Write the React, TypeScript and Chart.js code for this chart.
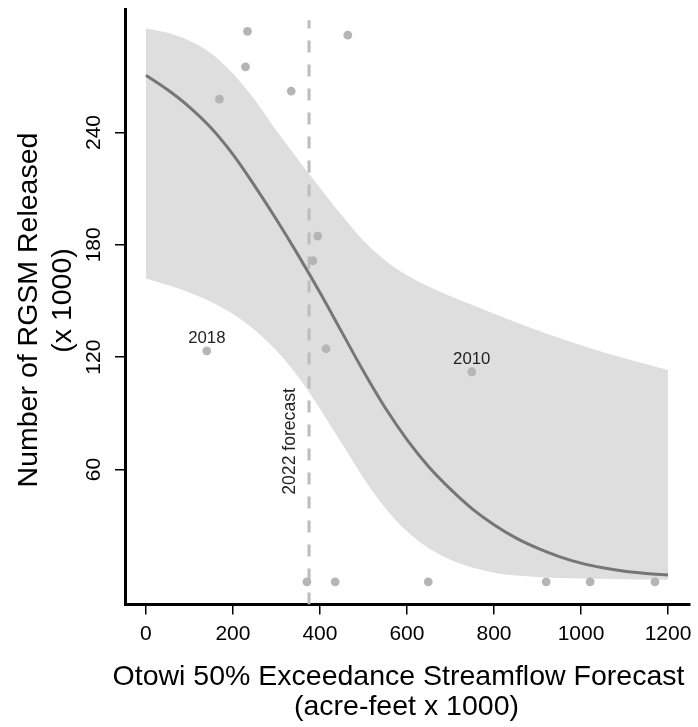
import React, { useEffect, useRef } from 'react';
import { Chart, registerables } from 'chart.js';

Chart.register(...registerables);

// Fitted curve and confidence band (x in acre-feet x 1000)
const fitX = [0, 50, 100, 150, 200, 250, 300, 350, 400, 450, 500, 550, 600, 650, 700, 750, 800, 850, 900, 950, 1000, 1050, 1100, 1150, 1200];
const fitY = [270.6, 262.8, 253.6, 242.4, 228.3, 211.5, 193.5, 174.5, 154.5, 133.5, 112.5, 93, 76, 61.5, 49.5, 39, 30.5, 23.5, 18, 13.5, 10, 7.5, 5.7, 4.5, 3.6];
const upperY = [295.6, 293.3, 289, 282.2, 271.5, 257.5, 241, 225.5, 210.5, 195.8, 182.3, 171.6, 163.7, 157.7, 152.6, 147.8, 143.2, 138.7, 134.4, 130.3, 126.4, 122.8, 119.4, 116.2, 113.1];
const lowerY = [162, 158.5, 154.5, 149.5, 143, 134.5, 123.5, 109.5, 92.5, 74, 55.5, 39.5, 27, 18, 11.8, 7.6, 4.9, 3.4, 2.6, 2.1, 1.8, 1.6, 1.4, 1.25, 1.1];

// Observed releases
const obsX = [140, 169, 229, 233.5, 334, 464, 384, 395, 414, 749, 370, 435, 649, 920, 1021, 1170];
const obsY = [123.4, 257.8, 275.1, 294, 262.1, 292, 171.5, 184.7, 124.5, 112.2, 0, 0, 0, 0, 0, 0];

// Labelled years (index into observed arrays)
const labelYears = ['2018', '2010'];
const labelIdx = [0, 9];

// 2022 forecast
const forecastX = 375;
const forecastTop = 300;
const forecastLabel = '2022 forecast';
const forecastLabelY = 75;

const xTicks = [0, 200, 400, 600, 800, 1000, 1200];
const yTicks = [60, 120, 180, 240];
const xTitle = ['Otowi 50% Exceedance Streamflow Forecast', '(acre-feet x 1000)'];
const yTitle = ['Number of RGSM Released', '(x 1000)'];

const X_MIN = -48;
const X_MAX = 1250.5;
const Y_MIN = -12.1;
const Y_MAX = 305.8;

const FAM = '"Liberation Sans", Arial, Helvetica, sans-serif';

const textPlugin = {
  id: 'textPlugin',
  afterDraw(chart: any) {
    const { ctx } = chart;
    const xs = chart.scales.x;
    const ys = chart.scales.y;
    ctx.save();
    ctx.fillStyle = '#000';
    ctx.textAlign = 'center';
    ctx.textBaseline = 'alphabetic';

    // x tick labels
    ctx.font = `21px ${FAM}`;
    xs.ticks.forEach((t: any) => {
      ctx.fillText(String(t.value), xs.getPixelForValue(t.value), 640);
    });
    // y tick labels (rotated)
    ys.ticks.forEach((t: any) => {
      ctx.save();
      ctx.translate(100, ys.getPixelForValue(t.value));
      ctx.rotate(-Math.PI / 2);
      ctx.fillText(String(t.value), 0, 0);
      ctx.restore();
    });

    // axis titles
    ctx.font = `28.5px ${FAM}`;
    ctx.fillText(xTitle[0], 398.5, 685);
    ctx.fillText(xTitle[1], 406.5, 714.5);

    ctx.save();
    ctx.translate(36.5, 310);
    ctx.rotate(-Math.PI / 2);
    ctx.fillText(yTitle[0], 0, 0);
    ctx.restore();
    ctx.save();
    ctx.translate(71, 300.5);
    ctx.rotate(-Math.PI / 2);
    ctx.fillText(yTitle[1], 0, 0);
    ctx.restore();

    // year annotations
    ctx.fillStyle = '#222';
    ctx.font = `16.8px ${FAM}`;
    labelIdx.forEach((idx, i) => {
      const px = xs.getPixelForValue(obsX[idx]);
      const py = ys.getPixelForValue(obsY[idx]);
      ctx.fillText(labelYears[i], px, py - 7.5);
    });

    // forecast label
    ctx.font = `17.6px ${FAM}`;
    ctx.save();
    ctx.translate(xs.getPixelForValue(forecastX) - 14.5, ys.getPixelForValue(forecastLabelY));
    ctx.rotate(-Math.PI / 2);
    ctx.fillText(forecastLabel, 0, 0);
    ctx.restore();

    ctx.restore();
  },
};

export default function App() {
  const canvasRef = useRef<HTMLCanvasElement | null>(null);

  useEffect(() => {
    if (!canvasRef.current) return;
    const chart = new Chart(canvasRef.current, {
      type: 'scatter',
      data: {
        datasets: [
          {
            label: 'observed',
            data: obsX.map((x, i) => ({ x, y: obsY[i] })),
            backgroundColor: '#b5b5b5',
            borderWidth: 0,
            pointRadius: 4.4,
            order: 0,
          },
          {
            label: 'fit',
            data: fitX.map((x, i) => ({ x, y: fitY[i] })),
            showLine: true,
            borderColor: '#767676',
            borderWidth: 3,
            pointRadius: 0,
            cubicInterpolationMode: 'monotone',
            order: 1,
          },
          {
            label: 'forecast',
            data: [
              { x: forecastX, y: Y_MIN },
              { x: forecastX, y: forecastTop },
            ],
            showLine: true,
            borderColor: '#bcbcbc',
            borderWidth: 3,
            borderDash: [12, 12],
            pointRadius: 0,
            order: 2,
          },
          {
            label: 'upper',
            data: fitX.map((x, i) => ({ x, y: upperY[i] })),
            showLine: true,
            borderWidth: 0,
            borderColor: 'rgba(0,0,0,0)',
            backgroundColor: '#dedede',
            fill: '+1',
            pointRadius: 0,
            cubicInterpolationMode: 'monotone',
            order: 3,
          },
          {
            label: 'lower',
            data: fitX.map((x, i) => ({ x, y: lowerY[i] })),
            showLine: true,
            borderWidth: 0,
            borderColor: 'rgba(0,0,0,0)',
            pointRadius: 0,
            cubicInterpolationMode: 'monotone',
            order: 4,
          },
        ],
      } as any,
      options: {
        responsive: false,
        animation: false,
        events: [],
        layout: { padding: { top: 9.3, right: 8, left: 0, bottom: 0 } },
        plugins: {
          legend: { display: false },
          tooltip: { enabled: false },
        },
        scales: {
          x: {
            type: 'linear',
            min: X_MIN,
            max: X_MAX,
            afterBuildTicks: (s: any) => {
              s.ticks = xTicks.map((v) => ({ value: v }));
            },
            afterFit: (s: any) => {
              s.height = 727 - 604.5;
            },
            ticks: { display: false },
            grid: {
              display: true,
              drawOnChartArea: false,
              drawTicks: true,
              tickLength: 10,
              color: '#000',
              lineWidth: 1.5,
            },
            border: { display: true, color: '#000', width: 3 },
          },
          y: {
            type: 'linear',
            min: Y_MIN,
            max: Y_MAX,
            afterBuildTicks: (s: any) => {
              s.ticks = yTicks.map((v) => ({ value: v }));
            },
            afterFit: (s: any) => {
              s.width = 125;
            },
            ticks: { display: false },
            grid: {
              display: true,
              drawOnChartArea: false,
              drawTicks: true,
              tickLength: 10,
              color: '#000',
              lineWidth: 1.5,
            },
            border: { display: true, color: '#000', width: 3 },
          },
        },
      } as any,
      plugins: [textPlugin],
    });
    return () => chart.destroy();
  }, []);

  return (
    <div style={{ position: 'absolute', left: 0, top: 0, width: 698, height: 727, background: '#fff' }}>
      <canvas ref={canvasRef} width={698} height={727} style={{ display: 'block' }} />
    </div>
  );
}
